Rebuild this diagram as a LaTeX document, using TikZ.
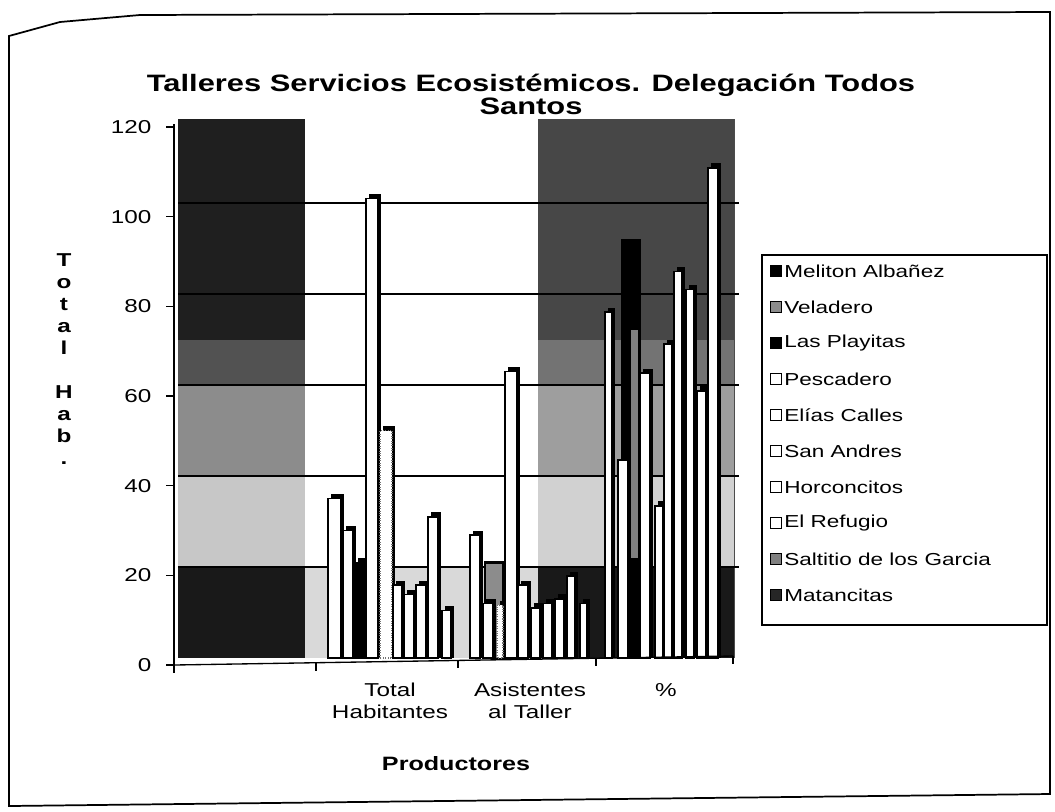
\documentclass[tikz,border=0pt]{standalone}
\usepackage{fontspec}
\setmainfont{Liberation Sans}[FakeStretch=1.3]

\begin{document}
\begin{tikzpicture}[x=0.75pt, y=-0.75pt,
                    bar/.style={fill=white, draw=black, line width=1.1pt},
                    faintbar/.style={fill=white, draw=black!55, line width=0.8pt, densely dotted},
                    darkbar/.style={fill=black, draw=black, line width=1.1pt},
                    graybar/.style={fill=black!45, draw=black, line width=1.6pt},
                    side/.style={fill=black},
                    gridline/.style={draw=black, line width=2pt},
                    ]
    \tikzstyle{axislabel}=[font=\fontsize{14}{16}\selectfont, anchor=east, inner sep=1pt]
    \tikzstyle{catlabel}=[font=\fontsize{14}{16.5}\selectfont, align=center, inner sep=0pt]
    \tikzstyle{legendtext}=[font=\fontsize{13}{15}\selectfont, anchor=west, inner sep=0pt]
    \tikzstyle{legendmark}=[draw=black, line width=0.9pt, minimum size=8pt, inner sep=0pt]
    \tikzstyle{titletext}=[font=\bfseries\fontsize{17.8}{20}\selectfont, inner sep=0pt]

    \useasboundingbox (0,0) rectangle (1055,811);
    \draw[line width=1.3pt] (9,36) -- (60,22) -- (140,15) -- (1050,12) -- (1050,794) -- (9,806) -- cycle;

    % walls, grid and bars (values in data units)
    \begin{scope}[shift={(0,658)}, yscale=-4.55]
        % left wall
        \fill[black!88] (178,70) rectangle (305,118.5);
        \fill[black!68] (178,60) rectangle (305,70);
        \fill[black!45] (178,40) rectangle (305,60);
        \fill[black!22] (178,20) rectangle (305,40);
        \fill[black!90] (178,0) rectangle (305,20);
        % middle wall
        \fill[black!15] (305,0) rectangle (538,20);
        % right wall
        \fill[black!72] (538,70) rectangle (735,118.5);
        \fill[black!55] (538,60) rectangle (735,70);
        \fill[black!38] (538,40) rectangle (735,60);
        \fill[black!18] (538,20) rectangle (735,40);
        \fill[black!90] (538,0) rectangle (735,20);

        \foreach \v in {20,40,60,80,100}
            \draw[gridline] (178,\v) -- (735,\v);
        \draw[black!70] (734,0) -- (734,118.5);
        \foreach \v in {20,40,60,80,100}
            \draw[line width=1pt] (731,\v) -- (739,\v);

        % Total Habitantes
        \foreach \x/\w/\v/\s in {328/13/35/bar, 343/10/28/bar, 355/10/21/darkbar,
                                 366/12/101/bar, 380/12/50/faintbar, 393/9/16/bar,
                                 404/10/14/bar, 416/10/16/bar, 428/10/31/bar, 442/9/10.5/bar} {
            \fill[side] (\x+3,0) rectangle (\x+\w+3,\v+1);
            \draw[\s] (\x,0) rectangle (\x+\w,\v);
        }

        % Asistentes al Taller
        \draw[graybar] (485,0) rectangle (503,21);
        \foreach \x/\w/\v/\s in {470/10/27/bar, 483/10/12/bar, 497/6/11.6/faintbar,
                                 505/12/63/bar, 518/10/16/bar, 531/9/11/bar,
                                 543/9/12/bar, 555/9/13/bar, 567/8/18/bar, 580/7/12/bar} {
            \fill[side] (\x+3,0) rectangle (\x+\w+3,\v+1);
            \draw[\s] (\x,0) rectangle (\x+\w,\v);
        }

        % porcentaje
        \draw[darkbar] (622,0) rectangle (640,92);
        \fill[black!50] (631,22) rectangle (638,72);
        \foreach \x/\w/\v/\s in {605/7/76/bar, 618/10/43.5/bar, 640/10/62.6/bar,
                                 655/8/33.4/bar, 664/8/69/bar, 674/8/85/bar,
                                 686/8/81/bar, 697/9/58.7/bar, 708/10/107.7/bar} {
            \fill[side] (\x+3,0) rectangle (\x+\w+3,\v+1);
            \draw[\s] (\x,0) rectangle (\x+\w,\v);
        }
    \end{scope}

    \node[titletext] (title) at (531,85) {Talleres Servicios Ecosistémicos. Delegación Todos};
    \node[titletext] (titlesub) at (531,106) {Santos};

    \node[font=\bfseries\fontsize{14}{16.5}\selectfont, align=center] (ytitle) at (64,359)
        {T\\o\\t\\a\\l\\[16.5pt]H\\a\\b\\.};

    % axes
    \draw[line width=1pt] (174,665) -- (174,124);
    \foreach \v in {0,20,...,120} {
        \draw[line width=1pt] (166,{665-4.483*\v}) -- (174,{665-4.483*\v});
        \node[axislabel] (ylab\v) at (153,{665-4.483*\v}) {\v};
    }
    \draw[line width=1pt] (174,665) -- (733,656);
    \foreach \x/\y in {174/665, 316/662.7, 458/660.4, 596/658.2, 733/656}
        \draw[line width=1pt] (\x,\y) -- (\x,\y+8);

    \node[catlabel] (cathab) at (390,701) {Total\\Habitantes};
    \node[catlabel] (catasis) at (530,701) {Asistentes\\al Taller};
    \node[catlabel] (catpct) at (666,690) {\%};
    \node[font=\bfseries\fontsize{14.5}{16}\selectfont] (xtitle) at (456,764) {Productores};

    % legend
    \draw[line width=1.2pt] (762,255) rectangle (1047,625);
    \foreach \name/\col [count=\i] in {Meliton Albañez/black, Veladero/black!45, Las Playitas/black,
                                       Pescadero/white, Elías Calles/white, San Andres/white,
                                       Horconcitos/white, El Refugio/white,
                                       Saltitio de los Garcia/black!50, Matancitas/black!85} {
        \node[legendmark, fill=\col] (mark\i) at (776,{235+36*\i}) {};
        \node[legendtext] (entry\i) at (784,{235+36*\i}) {\name};
    }
\end{tikzpicture}
\end{document}
